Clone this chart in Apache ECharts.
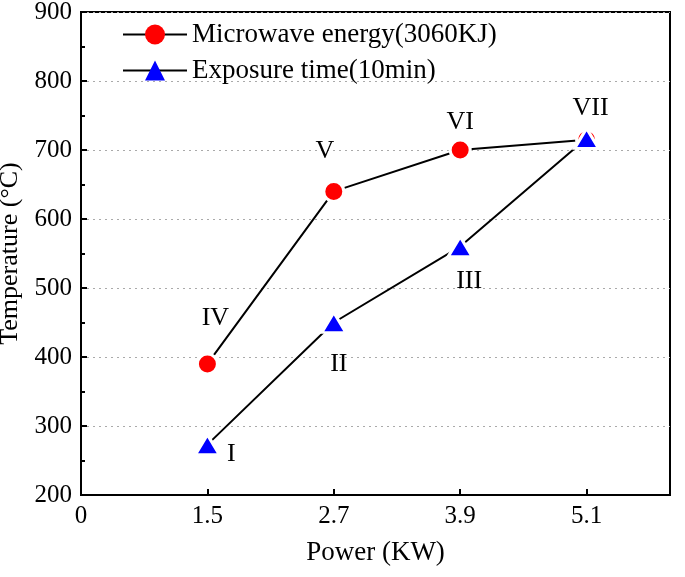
<!DOCTYPE html>
<html><head><meta charset="utf-8">
<script src="https://cdn.jsdelivr.net/npm/echarts@6/dist/echarts.min.js"></script>
<style>html,body{margin:0;padding:0;background:#fff}#c{width:685px;height:577px}</style>
</head><body><div id="c"></div>
<script>
const tickLabels = ['0', '1.5', '2.7', '3.9', '5.1'];
const powers = ['1.5', '2.7', '3.9', '5.1'];
const energyTemps = [390, 640, 700, 715];
const timeTemps = [273, 450, 560, 717];
const energyTags = ['IV', 'V', 'VI', 'VII'];
const timeTags = ['I', 'II', 'III', ''];
const energyName = 'Microwave energy(3060KJ)';
const timeName = 'Exposure time(10min)';

const energyOffsets = [[8, -46], [-9, -40], [0, -28], [4, -31]];
const timeOffsets = [[24, 10], [5, 42], [9, 35], [0, 0]];
const font = "'Liberation Serif', 'Times New Roman', 'DejaVu Serif', serif";

function build(temps, tags, offsets) {
  return powers.map((p, i) => ({
    value: [tickLabels.indexOf(p), temps[i]],
    label: { show: tags[i] !== '', formatter: tags[i], position: 'inside', offset: offsets[i],
      color: '#000', fontFamily: font, fontSize: 26 }
  }));
}

const chart = echarts.init(document.getElementById('c'));
chart.setOption({
  backgroundColor: '#fff',
  animation: false,
  grid: { left: 81, right: 15, top: 12, bottom: 82, show: true, borderColor: '#000', borderWidth: 2,
    backgroundColor: 'transparent', containLabel: false, outerBoundsMode: 'none' },
  legend: {
    left: 122, top: 21, orient: 'vertical', itemWidth: 64, itemHeight: 25, itemGap: 9, padding: 0,
    itemStyle: { borderWidth: 0 },
    textStyle: { fontFamily: font, fontSize: 27, color: '#000' },
    data: [energyName, timeName]
  },
  xAxis: {
    type: 'value', min: 0, max: 4.66, interval: 1,
    name: 'Power (KW)', nameLocation: 'middle', nameGap: 44,
    nameTextStyle: { fontFamily: font, fontSize: 27, color: '#000' },
    axisLine: { lineStyle: { color: '#000', width: 2 } },
    axisTick: { inside: true, length: 6, lineStyle: { color: '#000', width: 2 } },
    axisLabel: { fontFamily: font, fontSize: 25, color: '#000', margin: 9, showMaxLabel: false,
      formatter: v => (Number.isInteger(v) && tickLabels[v] !== undefined) ? tickLabels[v] : '' },
    splitLine: { show: false }
  },
  yAxis: {
    type: 'value', min: 200, max: 900, interval: 100,
    name: 'Temperature (\u00B0C)', nameLocation: 'middle', nameGap: 55,
    nameTextStyle: { fontFamily: font, fontSize: 26, color: '#000' },
    axisLine: { show: true, lineStyle: { color: '#000', width: 2 } },
    axisTick: { show: true, inside: true, length: 6, lineStyle: { color: '#000', width: 2 } },
    minorTick: { show: true, splitNumber: 2, length: 4, lineStyle: { color: '#000', width: 2 } },
    axisLabel: { fontFamily: font, fontSize: 25, color: '#000', margin: 9 },
    splitLine: { show: true, lineStyle: { color: '#aaa', type: [2, 4], width: 1.2 } }
  },
  series: [
    {
      name: energyName, type: 'line', data: build(energyTemps, energyTags, energyOffsets),
      symbol: 'circle', symbolSize: 20,
      lineStyle: { color: '#000', width: 2 },
      itemStyle: { color: '#ff0000', borderColor: '#fff', borderWidth: 3 },
      z: 2
    },
    {
      name: timeName, type: 'line', data: build(timeTemps, timeTags, timeOffsets),
      symbol: 'triangle', symbolSize: [24, 20],
      lineStyle: { color: '#000', width: 2 },
      itemStyle: { color: '#0000ff', borderColor: '#fff', borderWidth: 3 },
      z: 3
    }
  ]
});
</script></body></html>
